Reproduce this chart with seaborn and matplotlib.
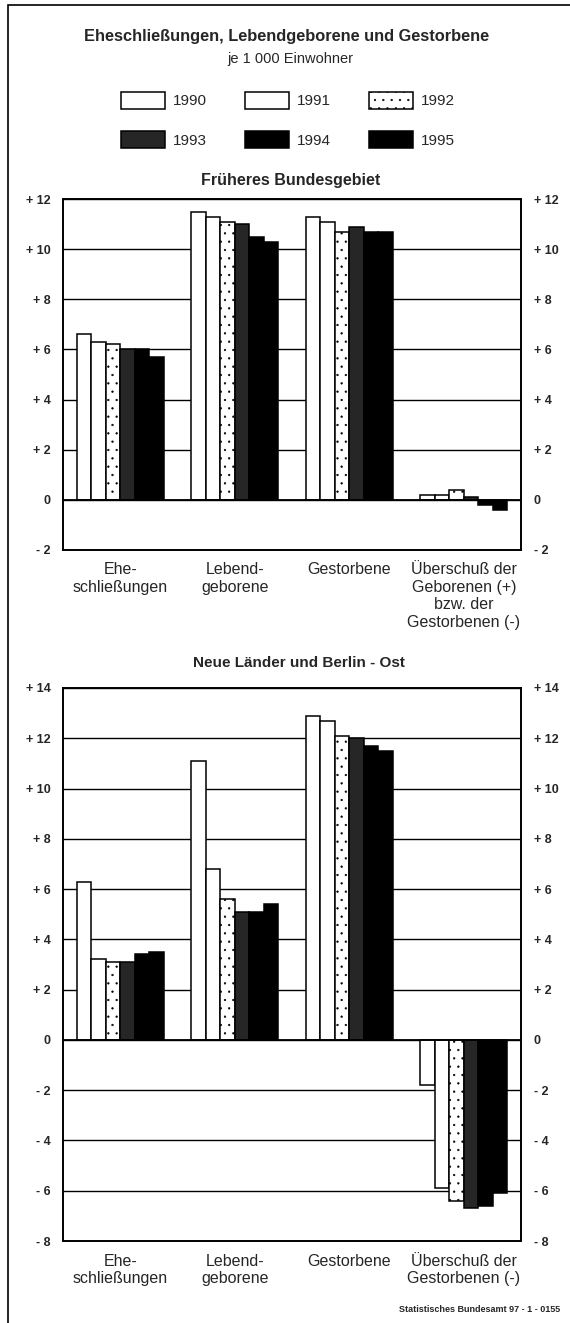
import pandas as pd
import matplotlib.pyplot as plt
import seaborn as sns
from matplotlib.patches import Patch, Rectangle

# --- Data (je 1 000 Einwohner) ---
years = ['1990', '1991', '1992', '1993', '1994', '1995']
cats_west = ['Ehe-\nschließungen', 'Lebend-\ngeborene', 'Gestorbene',
             'Überschuß der\nGeborenen (+)\nbzw. der\nGestorbenen (-)']
cats_east = ['Ehe-\nschließungen', 'Lebend-\ngeborene', 'Gestorbene',
             'Überschuß der\nGestorbenen (-)']

# one list per category, values for 1990..1995
west_ehe = [6.6, 6.3, 6.2, 6.0, 6.0, 5.7]
west_geb = [11.5, 11.3, 11.1, 11.0, 10.5, 10.3]
west_gest = [11.3, 11.1, 10.7, 10.9, 10.7, 10.7]
west_saldo = [0.2, 0.2, 0.4, 0.1, -0.2, -0.4]

east_ehe = [6.3, 3.2, 3.1, 3.1, 3.4, 3.5]
east_geb = [11.1, 6.8, 5.6, 5.1, 5.1, 5.4]
east_gest = [12.9, 12.7, 12.1, 12.0, 11.7, 11.5]
east_saldo = [-1.8, -5.9, -6.4, -6.7, -6.6, -6.1]

west_ticks = [-2, 0, 2, 4, 6, 8, 10, 12]
east_ticks = [-8, -6, -4, -2, 0, 2, 4, 6, 8, 10, 12, 14]

# bar styles per year
face = {'1990': 'white', '1991': 'white', '1992': 'white',
        '1993': '#262626', '1994': 'black', '1995': 'black'}
hatch = {'1990': None, '1991': None, '1992': '..',
         '1993': None, '1994': None, '1995': None}


def to_frame(cats, series):
    rows = []
    for c, vals in zip(cats, series):
        for y, v in zip(years, vals):
            rows.append({'Kategorie': c, 'Jahr': y, 'Wert': v})
    return pd.DataFrame(rows)


def tick_label(v):
    if v > 0:
        return f'+ {v}'
    if v < 0:
        return f'- {abs(v)}'
    return '0'


def draw_panel(ax, df, cats, ticks):
    sns.barplot(data=df, x='Kategorie', y='Wert', hue='Jahr',
                order=cats, hue_order=years, palette=face,
                width=0.76, legend=False, ax=ax, errorbar=None,
                saturation=1)
    for year, cont in zip(years, ax.containers):
        for bar in cont:
            bar.set_edgecolor('black')
            bar.set_linewidth(1.1)
            bar.set_facecolor(face[year])
            if hatch[year]:
                bar.set_hatch(hatch[year])
    ax.set_ylim(ticks[0], ticks[-1])
    ax.set_yticks(ticks)
    ax.set_yticklabels([tick_label(t) for t in ticks])
    ax.set_axisbelow(True)
    ax.yaxis.grid(True, color='black', linewidth=1.0)
    ax.xaxis.grid(False)
    ax.axhline(0, color='black', linewidth=1.3, zorder=1)
    for s in ax.spines.values():
        s.set_visible(True)
        s.set_color('black')
        s.set_linewidth(1.4)
    ax.tick_params(axis='y', length=0, pad=9, labelsize=9,
                   left=False, right=False, labelleft=True, labelright=True)
    for lab in ax.get_yticklabels():
        lab.set_fontweight('bold')
    ax.tick_params(axis='x', length=0, pad=9, labelsize=11.5)
    for lab in ax.get_xticklabels():
        lab.set_linespacing(1.2)
    ax.set_xlabel('')
    ax.set_ylabel('')


sns.set_theme(style='white')
plt.rcParams['font.family'] = ['Liberation Sans', 'DejaVu Sans']
plt.rcParams['hatch.linewidth'] = 0.4

fig = plt.figure(figsize=(5.7, 13.23), dpi=100)
W, H = 570, 1323

# outer frame
fig.patches.append(Rectangle((8 / W, -0.01), 1.2, 1 - 5 / H + 0.01,
                             transform=fig.transFigure, fill=False,
                             edgecolor='black', linewidth=1.2))

ax1 = fig.add_axes([63 / W, 1 - 550 / H, 458 / W, 351 / H])
ax2 = fig.add_axes([63 / W, 1 - 1241 / H, 458 / W, 553 / H])

draw_panel(ax1, to_frame(cats_west, [west_ehe, west_geb, west_gest, west_saldo]),
           cats_west, west_ticks)
draw_panel(ax2, to_frame(cats_east, [east_ehe, east_geb, east_gest, east_saldo]),
           cats_east, east_ticks)

fig.text(287 / W, 1 - 36 / H, 'Eheschließungen, Lebendgeborene und Gestorbene',
         ha='center', va='center', fontsize=11.8, fontweight='bold')
fig.text(290 / W, 1 - 59 / H, 'je 1 000 Einwohner',
         ha='center', va='center', fontsize=10.5)
fig.text(291 / W, 1 - 181 / H, 'Früheres Bundesgebiet',
         ha='center', va='center', fontsize=11.5, fontweight='bold')
fig.text(299 / W, 1 - 663 / H, 'Neue Länder und Berlin - Ost',
         ha='center', va='center', fontsize=11, fontweight='bold')
fig.text(560 / W, 1 - 1310 / H, 'Statistisches Bundesamt 97 - 1 - 0155',
         ha='right', va='center', fontsize=6.5, fontweight='bold')

# legend, filled row by row
handles = {y: Patch(facecolor=face[y], edgecolor='black', linewidth=1.1,
                    hatch=hatch[y]) for y in years}
order = ['1990', '1993', '1991', '1994', '1992', '1995']
fig.legend([handles[y] for y in order], order, ncol=3,
           loc='center', bbox_to_anchor=(288 / W, 1 - 120 / H),
           frameon=False, fontsize=11, handlelength=2.9, handleheight=1.3,
           columnspacing=2.5, handletextpad=0.5, labelspacing=1.5)

fig.savefig('out.png', dpi=100)
